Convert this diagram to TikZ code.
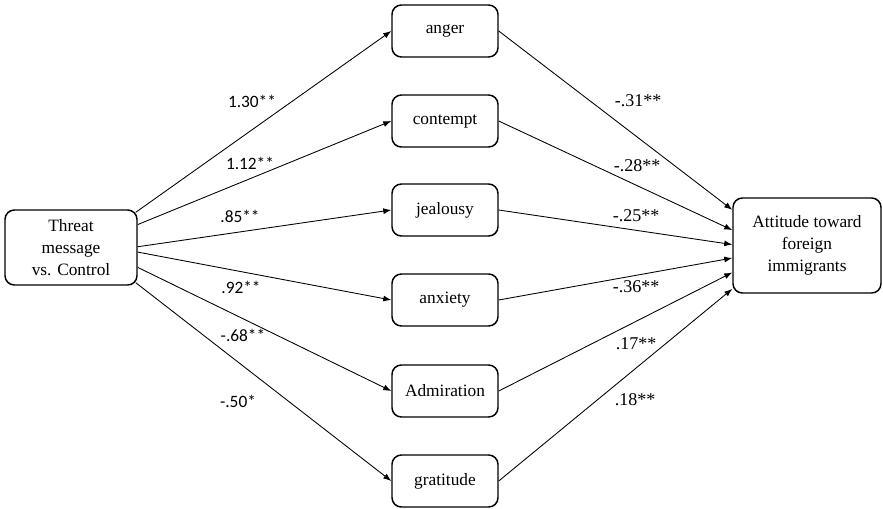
\documentclass[tikz,border=0pt]{standalone}
\usepackage{fontspec}
\setmainfont{Liberation Serif}
\newfontfamily\lblfont{Carlito}
\usetikzlibrary{arrows.meta,calc}
\begin{document}
\begin{tikzpicture}[x=0.75pt,y=-0.75pt,
  box/.style={draw, line width=1.1pt, rounded corners=7pt, align=center, font=\fontsize{13}{16.5}\selectfont, inner sep=0pt},
  mid/.style={box, minimum width=79.5pt, minimum height=39pt},
  conn/.style={line width=0.65pt, -{Latex[length=6pt,width=4.5pt]}},
  lbl/.style={font=\lblfont\fontsize{13}{15}\selectfont, inner sep=0pt},
  rlbl/.style={font=\fontsize{13.5}{15}\selectfont, inner sep=0pt}]
\useasboundingbox (0,0) rectangle (883,508);

\node[box, minimum width=99pt, minimum height=56.25pt] (threat) at (71,247.5) {Threat\\message\\vs. Control};
\node[box, minimum width=111pt, minimum height=71.25pt] (att) at (807,245.5) {Attitude toward\\foreign\\immigrants};

\node[mid] (anger) at (445,31) {anger};
\node[mid] (contempt) at (445,121) {contempt};
\node[mid] (jealousy) at (445,210) {jealousy};
\node[mid] (anxiety) at (445,300) {anxiety};
\node[mid] (admiration) at (445,391) {Admiration};
\node[mid] (gratitude) at (445,481) {gratitude};

\coordinate (s1) at ($(threat.north east)!0.04!(threat.south east)+(-2,0)$);
\coordinate (s2) at ($(threat.north east)!0.2!(threat.south east)$);
\coordinate (s3) at ($(threat.north east)!0.49!(threat.south east)$);
\coordinate (s4) at ($(threat.north east)!0.56!(threat.south east)$);
\coordinate (s5) at ($(threat.north east)!0.76!(threat.south east)$);
\coordinate (s6) at ($(threat.north east)!0.96!(threat.south east)+(-2,0)$);

\coordinate (e1) at ($(att.north west)!0.13!(att.south west)$);
\coordinate (e2) at ($(att.north west)!0.34!(att.south west)$);
\coordinate (e3) at ($(att.north west)!0.49!(att.south west)$);
\coordinate (e4) at ($(att.north west)!0.63!(att.south west)$);
\coordinate (e5) at ($(att.north west)!0.78!(att.south west)$);
\coordinate (e6) at ($(att.north west)!0.95!(att.south west)$);

\draw[conn] (s1) -- (anger.west);
\draw[conn] (s2) -- (contempt.west);
\draw[conn] (s3) -- (jealousy.west);
\draw[conn] (s4) -- (anxiety.west);
\draw[conn] (s5) -- (admiration.west);
\draw[conn] (s6) -- (gratitude.west);

\draw[conn] (anger.east) -- (e1);
\draw[conn] (contempt.east) -- (e2);
\draw[conn] (jealousy.east) -- (e3);
\draw[conn] (anxiety.east) -- (e4);
\draw[conn] (admiration.east) -- (e5);
\draw[conn] (gratitude.east) -- (e6);

\node[lbl] (l1) at (252,101) {1.30**};
\node[lbl] (l2) at (250,163) {1.12**};
\node[lbl] (l3) at (240,216) {.85**};
\node[lbl] (l4) at (241,287) {.92**};
\node[lbl] (l5) at (243,335) {-.68**};
\node[lbl] (l6) at (238,401) {-.50*};

\node[rlbl] (r1) at (638,101) {-.31**};
\node[rlbl] (r2) at (637,166) {-.28**};
\node[rlbl] (r3) at (636,216) {-.25**};
\node[rlbl] (r4) at (636,287) {-.36**};
\node[rlbl] (r5) at (636,344) {.17**};
\node[rlbl] (r6) at (635,400) {.18**};
\end{tikzpicture}
\end{document}
